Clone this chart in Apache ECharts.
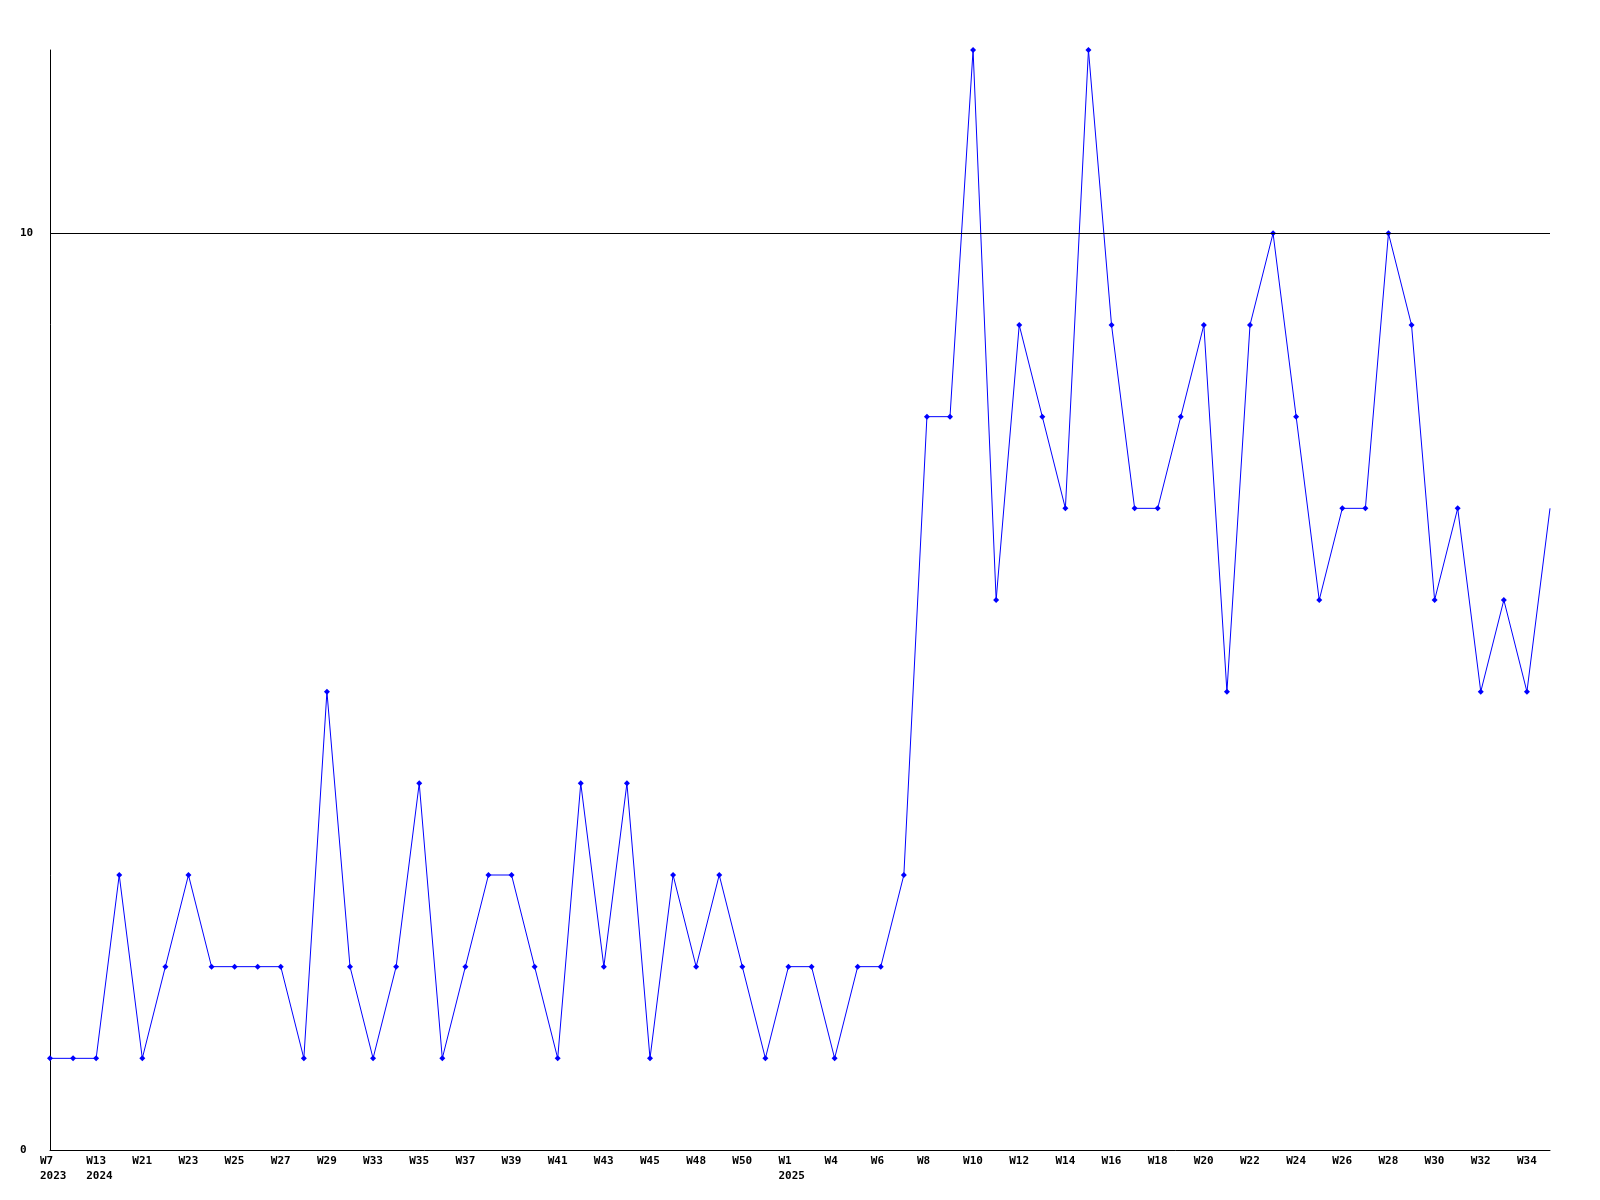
<!DOCTYPE html>
<html>
<head>
<meta charset="utf-8">
<script src="https://cdn.jsdelivr.net/npm/echarts@6/dist/echarts.min.js"></script>
<style>html,body{margin:0;padding:0;background:#fff}#c{width:1600px;height:1200px}</style>
</head>
<body>
<div id="c"></div>
<script>
// Week categories (odd-position names are hidden in the chart, estimated)
const categories = [
  'W7\n2023','W8','W13\n2024','W20','W21','W22','W23','W24','W25','W26',
  'W27','W28','W29','W31','W33','W34','W35','W36','W37','W38',
  'W39','W40','W41','W42','W43','W44','W45','W47','W48','W49',
  'W50','W52','W1\n2025','W2','W4','W5','W6','W7','W8','W9',
  'W10','W11','W12','W13','W14','W15','W16','W17','W18','W19',
  'W20','W21','W22','W23','W24','W25','W26','W27','W28','W29',
  'W30','W31','W32','W33','W34','W35'
];
const values = [
  1,1,1,3,1,2,3,2,2,2,
  2,1,5,2,1,2,4,1,2,3,
  3,2,1,4,2,4,1,3,2,3,
  2,1,2,2,1,2,2,3,8,8,
  12,6,9,8,7,12,9,7,7,8,
  9,5,9,10,8,6,7,7,10,9,
  6,7,5,6,5,7
];
const yMin = 0, yMax = 12, yInterval = 10;
const refLine = 10;

const chart = echarts.init(document.getElementById('c'));
const font = {fontFamily: 'DejaVu Sans Mono', fontWeight: 'bold', fontSize: 11, color: '#000'};
chart.setOption({
  animation: false,
  backgroundColor: '#fff',
  grid: {left: 50, right: 50, top: 50, bottom: 50, containLabel: false},
  xAxis: {
    type: 'category',
    data: categories,
    boundaryGap: false,
    axisLine: {lineStyle: {color: '#000', width: 1}},
    axisTick: {show: false},
    splitLine: {show: false},
    axisLabel: {
      interval: 1,
      margin: 4,
      formatter: function (v) {
        return v.split('\n').map(s => '{a|' + s + '}').join('\n');
      },
      rich: {a: Object.assign({width: 20, align: 'left', lineHeight: 15}, font)}
    }
  },
  yAxis: {
    type: 'value',
    min: yMin, max: yMax, interval: yInterval,
    axisLine: {show: true, lineStyle: {color: '#000', width: 1}},
    axisTick: {show: false},
    splitLine: {show: false},
    axisLabel: Object.assign({margin: 30, align: 'left', showMaxLabel: false}, font)
  },
  series: [{
    type: 'line',
    data: values,
    symbol: function (v, p) { return p.dataIndex === values.length - 1 ? 'none' : 'diamond'; },
    symbolSize: 6,
    showAllSymbol: true,
    lineStyle: {color: '#0000ff', width: 1},
    itemStyle: {color: '#0000ff'},
    markLine: {
      silent: true,
      symbol: 'none',
      label: {show: false},
      lineStyle: {color: '#000', type: 'solid', width: 1},
      data: [{yAxis: refLine}]
    }
  }]
});
</script>
</body>
</html>
